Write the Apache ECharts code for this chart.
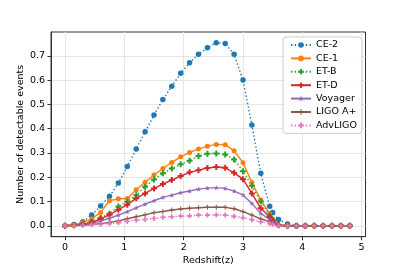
<!DOCTYPE html>
<html>
<head>
<meta charset="utf-8">
<script src="https://cdn.jsdelivr.net/npm/echarts@6/dist/echarts.min.js"></script>
<style>
html,body{margin:0;padding:0;background:#fff;}
#chart{width:407px;height:271px;}
</style>
</head>
<body>
<div id="chart"></div>
<script>
const redshift = [0,0.15,0.3,0.45,0.6,0.75,0.9,1.05,1.2,1.35,1.5,1.65,1.8,1.95,2.1,2.25,2.4,2.55,2.7,2.85,3.0,3.15,3.3,3.45,3.5,3.6,3.75,3.9,4.05,4.2,4.35,4.5,4.65,4.8];
const ce2 = [0,0.005,0.017,0.044,0.081,0.122,0.176,0.244,0.316,0.387,0.456,0.52,0.575,0.628,0.671,0.706,0.733,0.754,0.751,0.706,0.60,0.415,0.216,0.08,0.055,0.026,0.007,0,0,0,0,0,0,0];
const ce1 = [0,0.003,0.013,0.028,0.055,0.103,0.111,0.112,0.148,0.179,0.209,0.236,0.261,0.284,0.302,0.316,0.328,0.335,0.334,0.309,0.26,0.178,0.106,0.05,0.028,0.003,0,0,0,0,0,0,0,0];
const etB = [0,0.002,0.007,0.017,0.033,0.05,0.079,0.099,0.126,0.161,0.191,0.216,0.236,0.253,0.268,0.287,0.297,0.298,0.294,0.273,0.225,0.165,0.1,0.044,0.025,0.003,0,0,0,0,0,0,0,0];
const etD = [0,0.002,0.006,0.014,0.028,0.045,0.066,0.087,0.113,0.133,0.154,0.172,0.188,0.205,0.22,0.229,0.238,0.242,0.239,0.218,0.192,0.133,0.072,0.036,0.02,0.002,0,0,0,0,0,0,0,0];
const voyager = [0,0.001,0.004,0.01,0.019,0.031,0.044,0.058,0.074,0.089,0.103,0.117,0.126,0.136,0.143,0.151,0.155,0.157,0.154,0.143,0.127,0.092,0.051,0.026,0.015,0.002,0,0,0,0,0,0,0,0];
const ligoAplus = [0,0.001,0.002,0.005,0.009,0.014,0.02,0.029,0.037,0.045,0.054,0.059,0.065,0.069,0.072,0.074,0.076,0.076,0.076,0.07,0.058,0.044,0.028,0.017,0.01,0.001,0,0,0,0,0,0,0,0];
const advLigo = [0,0.001,0.002,0.004,0.006,0.009,0.013,0.018,0.023,0.026,0.03,0.035,0.037,0.04,0.041,0.044,0.044,0.045,0.044,0.039,0.033,0.025,0.016,0.009,0.006,0.001,0,0,0,0,0,0,0,0];
const seriesNames = ['CE-2','CE-1','ET-B','ET-D','Voyager','LIGO A+','AdvLIGO'];
const xTicks = [0,1,2,3,4,5];
const yTicks = [0,0.1,0.2,0.3,0.4,0.5,0.6,0.7];

const FONT = 'DejaVu Sans';
const plusThick = 'path://M-1,-3H1V-1H3V1H1V3H-1V1H-3V-1H-1Z';
const plusThin = 'path://M-0.6,-3H0.6V-0.6H3V0.6H0.6V3H-0.6V0.6H-3V-0.6H-0.6Z';
const star = 'path://M0,-3L0.9,-0.9L3,-0.9L1.3,0.4L1.9,2.6L0,1.3L-1.9,2.6L-1.3,0.4L-3,-0.9L-0.9,-0.9Z';
const dotted = [1.4, 2.3];

function pairs(vals){ return redshift.map((x,i)=>[x, vals[i]]); }

const specs = [
  {vals: ce2, color:'#1f77b4', dash: dotted, symbol:'circle', size:5.5},
  {vals: ce1, color:'#ff7f0e', dash: 'solid', symbol:'circle', size:5},
  {vals: etB, color:'#2ca02c', dash: dotted, symbol: plusThick, size:6},
  {vals: etD, color:'#d62728', dash: 'solid', symbol: plusThick, size:6},
  {vals: voyager, color:'#9467bd', dash: 'solid', symbol: star, size:5},
  {vals: ligoAplus, color:'#8c564b', dash: 'solid', symbol: plusThin, size:5},
  {vals: advLigo, color:'#e377c2', dash: dotted, symbol: plusThick, size:5}
];

const series = specs.map((s,i)=>({
  name: seriesNames[i],
  type: 'line',
  data: pairs(s.vals),
  symbol: s.symbol,
  symbolSize: s.size,
  showSymbol: true,
  lineStyle: {color: s.color, width: 1.4, type: s.dash},
  itemStyle: {color: s.color, borderWidth: 0},
  emphasis: {disabled: true},
  animation: false
}));

const chart = echarts.init(document.getElementById('chart'), null, {renderer:'canvas'});
chart.setOption({
  animation: false,
  backgroundColor: '#fff',
  textStyle: {fontFamily: FONT},
  grid: {left: 51, top: 32, width: 314.5, height: 204.7, show: true, borderColor: '#333', borderWidth: 1, backgroundColor: 'transparent'},
  legend: {
    orient: 'vertical',
    left: 283, top: 37,
    padding: [3, 5, 3, 7],
    itemWidth: 20, itemHeight: 7, itemGap: 3.4,
    backgroundColor: 'rgba(255,255,255,0.85)',
    borderColor: '#cccccc', borderWidth: 1, borderRadius: 3,
    textStyle: {fontFamily: FONT, fontSize: 9.5, color: '#000'},
    data: seriesNames
  },
  xAxis: {
    type: 'value', min: -0.236, max: 5.065,
    name: 'Redshift(z)', nameLocation: 'middle', nameGap: 19, nameMoveOverlap: false,
    nameTextStyle: {fontFamily: FONT, fontSize: 9.5, color: '#000'},
    axisLine: {show: true, onZero: false, lineStyle: {color: '#333', width: 1}},
    axisTick: {show: true, customValues: xTicks, length: 3.5, lineStyle: {color: '#333'}},
    axisLabel: {customValues: xTicks, margin: 6, fontSize: 9.5, color: '#000', fontFamily: FONT, formatter: v => String(v)},
    splitLine: {show: true, lineStyle: {color: '#e6e6e6', width: 1}}
  },
  yAxis: {
    type: 'value', min: -0.045, max: 0.798,
    name: 'Number of detectable events', nameLocation: 'middle', nameGap: 25, nameMoveOverlap: false,
    nameTextStyle: {fontFamily: FONT, fontSize: 9.5, color: '#000'},
    axisLine: {show: true, onZero: false, lineStyle: {color: '#333', width: 1}},
    axisTick: {show: true, customValues: yTicks, length: 3.5, lineStyle: {color: '#333'}},
    axisLabel: {customValues: yTicks, margin: 6, fontSize: 9.5, color: '#000', fontFamily: FONT, formatter: v => v.toFixed(1)},
    splitLine: {show: true, lineStyle: {color: '#e6e6e6', width: 1}}
  },
  series: series
});
</script>
</body>
</html>
